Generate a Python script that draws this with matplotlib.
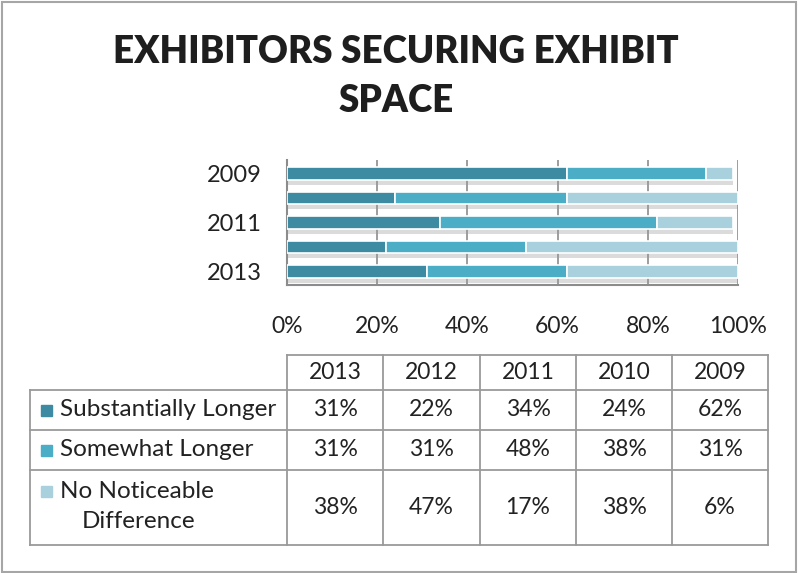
import matplotlib.pyplot as plt
from matplotlib.patches import Rectangle
from matplotlib.lines import Line2D

plt.rcParams['font.family'] = ['Lato', 'DejaVu Sans']

years = ["2009", "2010", "2011", "2012", "2013"]
substantially = [62, 24, 34, 22, 31]
somewhat = [31, 38, 48, 31, 31]
no_diff = [6, 38, 17, 47, 38]

series_names = ["Substantially Longer", "Somewhat Longer", "No Noticeable\nDifference"]
colors = ["#3D8BA3", "#4BADC6", "#A9D0DD"]
xticks = [0, 20, 40, 60, 80, 100]
xtick_labels = ["0%", "20%", "40%", "60%", "80%", "100%"]
ytick_labels = ["2009", "", "2011", "", "2013"]

W, H = 798, 573
fig = plt.figure(figsize=(W / 100, H / 100), dpi=100)

# bar chart
ax = fig.add_axes([287 / W, 1 - 285 / H, (738 - 287) / W, (285 - 160) / H])
ypos = list(range(len(years)))
series = [substantially, somewhat, no_diff]
left = [0] * len(years)
for vals, c in zip(series, colors):
    # soft drop shadow under each segment
    ax.barh([y + 0.2 for y in ypos], vals, left=left, height=0.5,
            color="#9a9a9a", alpha=0.35, zorder=2, linewidth=0)
    ax.barh(ypos, vals, left=left, height=0.5, color=c,
            edgecolor="white", linewidth=1.2, zorder=3)
    left = [l + v for l, v in zip(left, vals)]

ax.set_xlim(0, 100)
ax.set_ylim(4.55, -0.55)
ax.set_xticks(xticks)
ax.set_xticklabels(xtick_labels, fontsize=16.5, color="#222222")
ax.set_yticks(ypos)
ax.set_yticklabels(ytick_labels, fontsize=17, color="#222222")
ax.tick_params(axis="both", length=0)
ax.tick_params(axis="x", pad=22)
ax.tick_params(axis="y", pad=18)
ax.grid(axis="x", color="#8c8c8c", linewidth=1.2, zorder=1)
ax.set_axisbelow(True)
for s in ["top", "right"]:
    ax.spines[s].set_visible(False)
for s in ["left", "bottom"]:
    ax.spines[s].set_color("#8c8c8c")
    ax.spines[s].set_linewidth(1.5)

# overlay in pixel coordinates for title, table and border
ov = fig.add_axes([0, 0, 1, 1], zorder=5)
ov.set_xlim(0, W)
ov.set_ylim(H, 0)
ov.axis("off")
ov.patch.set_alpha(0)

ov.add_patch(Rectangle((2, 2), W - 4, H - 3, fill=False,
                       edgecolor="#a6a6a6", linewidth=1.5))

ov.text(396, 52, "EXHIBITORS SECURING EXHIBIT", ha="center", va="center",
        fontsize=26.5, fontweight="heavy", color="#1e1e1e")
ov.text(396, 101, "SPACE", ha="center", va="center",
        fontsize=26.5, fontweight="heavy", color="#1e1e1e")

# data table
col_edges = [287, 383, 480, 576, 672, 768]
row_edges = [355, 390, 430, 470, 545]
lc = "#9a9a9a"
table_years = years[::-1]

def hline(y, x0, x1):
    ov.add_line(Line2D([x0, x1], [y, y], color=lc, linewidth=1.3))

def vline(x, y0, y1):
    ov.add_line(Line2D([x, x], [y0, y1], color=lc, linewidth=1.3))

hline(row_edges[0], col_edges[0], col_edges[-1])
for y in row_edges[1:]:
    hline(y, 30, col_edges[-1])
vline(30, row_edges[1], row_edges[-1])
for x in col_edges:
    vline(x, row_edges[0], row_edges[-1])

for j, yr in enumerate(table_years):
    cx = (col_edges[j] + col_edges[j + 1]) / 2
    ov.text(cx, (row_edges[0] + row_edges[1]) / 2, yr, ha="center", va="center",
            fontsize=16.5, color="#222222")

for i, (name, vals, c) in enumerate(zip(series_names, series, colors)):
    y0, y1 = row_edges[i + 1], row_edges[i + 2]
    cy = (y0 + y1) / 2
    if "\n" in name:
        first, second = name.split("\n")
        ov.add_patch(Rectangle((41, 486), 11, 11, color=c))
        ov.text(60, 492, first, ha="left", va="center", fontsize=17.5, color="#222222")
        ov.text(82, 522, second, ha="left", va="center", fontsize=17.5, color="#222222")
    else:
        ov.add_patch(Rectangle((41, cy - 5.5), 11, 11, color=c))
        ov.text(60, cy, name, ha="left", va="center", fontsize=17.5, color="#222222")
    for j, v in enumerate(vals[::-1]):
        cx = (col_edges[j] + col_edges[j + 1]) / 2
        ov.text(cx, cy, f"{v}%", ha="center", va="center", fontsize=16.5, color="#222222")

fig.savefig("out.png", dpi=100)
